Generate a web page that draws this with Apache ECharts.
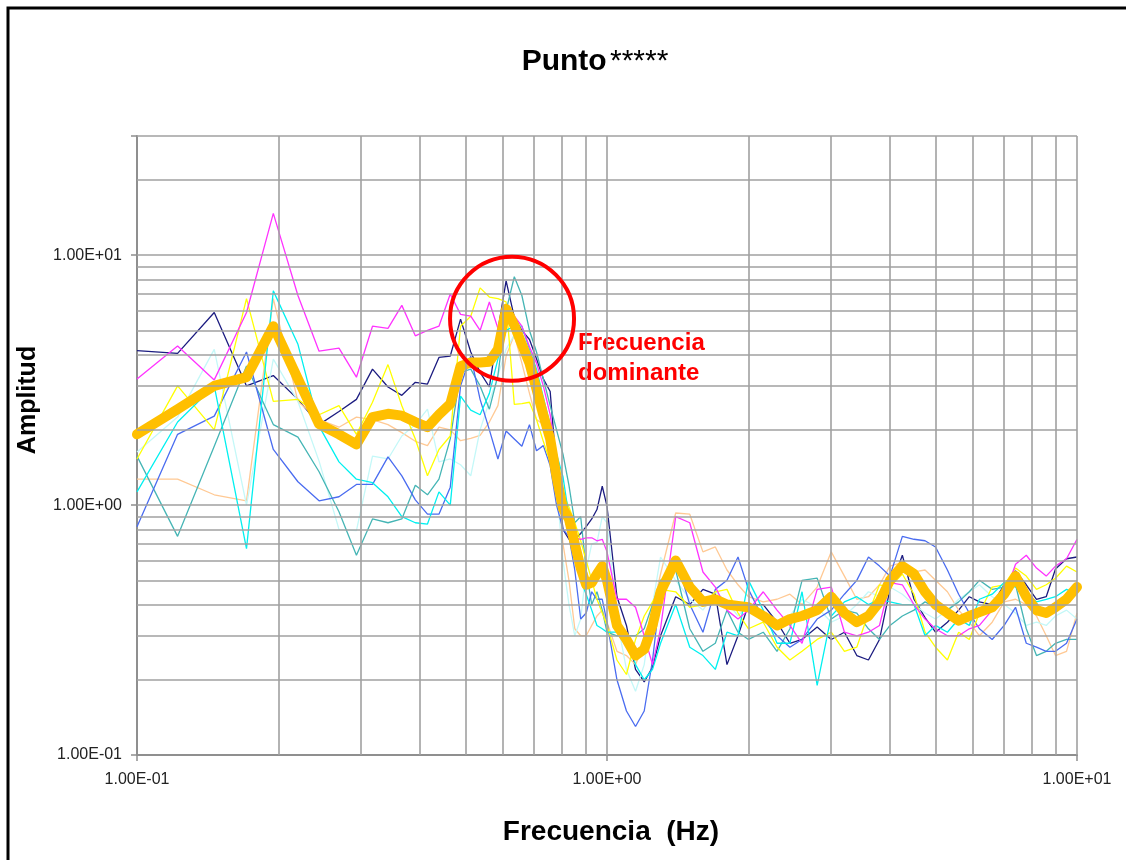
<!DOCTYPE html>
<html>
<head>
<meta charset="utf-8">
<title>Punto</title>
<script src="https://cdn.jsdelivr.net/npm/echarts@6/dist/echarts.min.js"></script>
<style>
  html, body { margin: 0; padding: 0; background: #fff; }
  #chart { width: 1126px; height: 860px; }
</style>
</head>
<body>
<div id="chart"></div>
<script>
// frequencies (Hz) shared by all the curves
var freq = [0.1, 0.122, 0.146, 0.171, 0.195, 0.22, 0.244, 0.269, 0.293, 0.317,
  0.342, 0.366, 0.391, 0.415, 0.439, 0.464, 0.488, 0.513, 0.537, 0.562,
  0.586, 0.61, 0.635, 0.659, 0.684, 0.708, 0.732, 0.757, 0.781, 0.806,
  0.83, 0.854, 0.879, 0.903, 0.928, 0.952, 0.977, 1.0,
  1.05, 1.1, 1.15, 1.2, 1.25, 1.3, 1.4, 1.5, 1.6, 1.7,
  1.8, 1.9, 2.0, 2.15, 2.3, 2.45, 2.6, 2.8, 3.0, 3.2,
  3.4, 3.6, 3.8, 4.0, 4.25, 4.5, 4.75, 5.0, 5.3, 5.6,
  5.9, 6.2, 6.6, 7.0, 7.4, 7.8, 8.2, 8.6, 9.0, 9.5, 10];

// amplitude of each record
var navy = [4.15, 4.05, 5.9, 3.0, 3.3, 2.65, 2.1, 2.37, 2.65, 3.5,
  2.97, 2.75, 3.1, 3.05, 3.9, 3.95, 5.55, 4.1, 3.4, 2.97,
  5.0, 7.9, 5.65, 5.0, 4.6, 3.85, 3.2, 2.85, 1.39, 0.8,
  0.73, 0.73, 0.77, 0.82, 0.88, 0.96, 1.19, 0.99,
  0.43, 0.33, 0.22, 0.196, 0.225, 0.30, 0.43, 0.40, 0.46, 0.44,
  0.23, 0.30, 0.40, 0.40, 0.34, 0.28, 0.29, 0.325, 0.29, 0.31,
  0.25, 0.24, 0.29, 0.46, 0.63, 0.42, 0.355, 0.31, 0.34, 0.38,
  0.43, 0.41, 0.40, 0.48, 0.545, 0.48, 0.42, 0.43, 0.555, 0.61, 0.62];
var magenta = [3.2, 4.33, 3.17, 5.9, 14.7, 6.9, 4.13, 4.25, 3.25, 5.2,
  5.1, 6.3, 4.76, 5.0, 5.2, 7.0, 5.8, 5.7, 5.0, 6.5,
  5.1, 6.3, 5.7, 5.2, 4.3, 3.7, 3.0, 2.3, 1.5, 0.95,
  0.76, 0.74, 0.73, 0.74, 0.74, 0.72, 0.73, 0.65,
  0.42, 0.42, 0.39, 0.30, 0.23, 0.32, 0.90, 0.85, 0.54, 0.47,
  0.38, 0.35, 0.38, 0.45, 0.38, 0.33, 0.28, 0.46, 0.47, 0.31,
  0.30, 0.31, 0.33, 0.49, 0.48, 0.40, 0.35, 0.32, 0.30, 0.30,
  0.32, 0.33, 0.38, 0.43, 0.58, 0.63, 0.56, 0.52, 0.57, 0.61, 0.73];
var yellow = [1.53, 3.0, 2.0, 6.7, 2.6, 2.65, 2.3, 2.5, 1.92, 2.58,
  3.65, 2.5, 1.84, 1.31, 1.67, 1.89, 5.2, 5.7, 7.4, 6.8,
  6.7, 6.5, 2.53, 2.55, 2.58, 2.2, 1.8, 1.49, 1.3, 1.12,
  0.98, 0.85, 0.72, 0.6, 0.5, 0.42, 0.37, 0.33,
  0.24, 0.21, 0.29, 0.36, 0.41, 0.46, 0.45, 0.39, 0.40, 0.45,
  0.46, 0.37, 0.32, 0.34, 0.27, 0.24, 0.26, 0.29, 0.31, 0.26,
  0.27, 0.37, 0.48, 0.47, 0.53, 0.44, 0.31, 0.27, 0.24, 0.31,
  0.29, 0.37, 0.47, 0.48, 0.56, 0.52, 0.46, 0.48, 0.51, 0.57, 0.54];
var cyan = [1.13, 2.15, 3.0, 0.67, 7.2, 4.4, 2.07, 1.49, 1.27, 1.23,
  1.08, 0.9, 0.85, 0.84, 1.13, 1.0, 2.73, 2.4, 2.3, 2.8,
  3.84, 5.0, 5.2, 5.2, 4.2, 3.5, 2.7, 2.1, 1.6, 1.3,
  0.9, 0.65, 0.5, 0.44, 0.38, 0.33, 0.32, 0.31,
  0.31, 0.31, 0.23, 0.20, 0.22, 0.28, 0.40, 0.27, 0.25, 0.22,
  0.31, 0.30, 0.50, 0.38, 0.28, 0.28, 0.45, 0.19, 0.36, 0.41,
  0.43, 0.40, 0.42, 0.41, 0.40, 0.40, 0.30, 0.33, 0.31, 0.35,
  0.33, 0.42, 0.44, 0.49, 0.47, 0.44, 0.41, 0.42, 0.43, 0.46, 0.44];
var royal = [0.82, 1.92, 2.27, 4.1, 1.67, 1.24, 1.04, 1.08, 1.21, 1.21,
  1.56, 1.31, 1.05, 0.92, 0.92, 1.18, 3.0, 3.95, 2.65, 2.0,
  1.53, 1.98, 1.84, 1.72, 2.1, 1.65, 1.73, 1.44, 1.0, 0.8,
  0.75, 0.55, 0.35, 0.37, 0.45, 0.42, 0.42, 0.34,
  0.20, 0.15, 0.13, 0.15, 0.24, 0.45, 0.62, 0.40, 0.31, 0.46,
  0.50, 0.62, 0.46, 0.35, 0.30, 0.27, 0.29, 0.35, 0.38, 0.44,
  0.50, 0.62, 0.57, 0.52, 0.75, 0.73, 0.72, 0.68, 0.55, 0.44,
  0.37, 0.32, 0.29, 0.33, 0.39, 0.28, 0.27, 0.26, 0.26, 0.28, 0.35];
var teal = [1.57, 0.75, 1.72, 3.6, 2.1, 1.87, 1.36, 0.94, 0.63, 0.88,
  0.85, 0.88, 1.2, 1.1, 1.27, 1.84, 3.4, 3.5, 3.0, 2.42,
  3.3, 6.0, 8.2, 6.9, 5.0, 4.1, 3.2, 2.5, 2.0, 1.6,
  1.2, 0.85, 0.9, 0.55, 0.4, 0.45, 0.38, 0.31,
  0.30, 0.30, 0.30, 0.32, 0.40, 0.50, 0.55, 0.32, 0.26, 0.28,
  0.38, 0.31, 0.29, 0.31, 0.26, 0.32, 0.50, 0.51, 0.35, 0.38,
  0.37, 0.32, 0.29, 0.33, 0.36, 0.38, 0.41, 0.39, 0.38, 0.41,
  0.45, 0.50, 0.46, 0.47, 0.48, 0.32, 0.25, 0.26, 0.28, 0.29, 0.29];
var peach = [1.27, 1.27, 1.1, 1.04, 6.7, 2.6, 2.2, 2.05, 2.25, 2.2,
  2.1, 1.95, 1.8, 1.73, 2.05, 2.0, 1.81, 1.85, 1.9, 2.15,
  2.5, 3.95, 4.8, 3.7, 2.8, 2.2, 2.1, 2.0, 1.3, 0.7,
  0.5, 0.32, 0.3, 0.3, 0.33, 0.36, 0.38, 0.34,
  0.26, 0.25, 0.23, 0.28, 0.38, 0.53, 0.93, 0.92, 0.65, 0.68,
  0.55, 0.48, 0.43, 0.41, 0.42, 0.44, 0.40, 0.47, 0.65, 0.52,
  0.42, 0.43, 0.48, 0.57, 0.59, 0.54, 0.55, 0.50, 0.45, 0.38,
  0.34, 0.30, 0.34, 0.41, 0.42, 0.40, 0.36, 0.30, 0.25, 0.26, 0.37];
var paleCyan = [1.63, 2.25, 4.2, 1.0, 3.84, 2.6, 1.5, 0.8, 0.79, 1.57,
  1.53, 1.89, 2.1, 2.42, 1.49, 1.53, 1.45, 1.31, 2.0, 2.6,
  3.3, 4.2, 4.8, 4.5, 3.9, 3.2, 2.5, 1.9, 1.2, 0.6,
  0.4, 0.3, 0.35, 0.55, 0.7, 0.71, 0.9, 0.85,
  0.35, 0.22, 0.18, 0.23, 0.4, 0.62, 0.5, 0.42, 0.38, 0.45,
  0.41, 0.36, 0.40, 0.37, 0.33, 0.36, 0.42, 0.39, 0.34, 0.36,
  0.40, 0.45, 0.43, 0.47, 0.44, 0.40, 0.37, 0.35, 0.38, 0.42,
  0.45, 0.48, 0.43, 0.40, 0.37, 0.33, 0.34, 0.33, 0.36, 0.38, 0.35];
// average curve (thick orange)
var average = [1.92, 2.42, 3.0, 3.25, 5.2, 3.2, 2.11, 1.92, 1.75, 2.25,
  2.32, 2.28, 2.15, 2.05, 2.3, 2.54, 3.6, 3.72, 3.72, 3.75,
  4.2, 6.1, 5.25, 4.4, 3.7, 2.91, 2.29, 1.84, 1.3, 0.97,
  0.88, 0.7, 0.56, 0.48, 0.49, 0.53, 0.57, 0.5,
  0.33, 0.29, 0.25, 0.265, 0.33, 0.45, 0.6, 0.47, 0.41, 0.42,
  0.40, 0.395, 0.39, 0.36, 0.33, 0.35, 0.36, 0.38, 0.43, 0.37,
  0.34, 0.36, 0.41, 0.5, 0.57, 0.53, 0.45, 0.40, 0.37, 0.345,
  0.36, 0.373, 0.39, 0.44, 0.52, 0.43, 0.38, 0.37, 0.39, 0.42, 0.47];

// grid lines of the log-log plot
var gridX = [0.2, 0.3, 0.4, 0.5, 0.6, 0.7, 0.8, 0.9, 1, 2, 3, 4, 5, 6, 7, 8, 9, 10];
var gridY = [0.2, 0.3, 0.4, 0.5, 0.6, 0.7, 0.8, 0.9, 1, 2, 3, 4, 5, 6, 7, 8, 9, 10, 20, 30];

// dominant frequency marker
var peakPoint = [0.628, 5.57];

var FONT = '"Liberation Sans", Arial, sans-serif';

function expLabel(v) {
  var lg = Math.log10(v);
  var e = Math.round(lg);
  if (Math.abs(lg - e) > 1e-6) return '';
  var s = String(Math.abs(e));
  if (s.length < 2) s = '0' + s;
  return '1.00E' + (e < 0 ? '-' : '+') + s;
}

function pairs(vals) {
  return freq.map(function (f, i) { return [f, vals[i]]; });
}

var thinLines = [
  { name: 'navy', vals: navy, color: '#1c1c80' },
  { name: 'peach', vals: peach, color: '#ffc994' },
  { name: 'paleCyan', vals: paleCyan, color: '#c4f8f8' },
  { name: 'teal', vals: teal, color: '#45b5b5' },
  { name: 'royal', vals: royal, color: '#4a6cf0' },
  { name: 'yellow', vals: yellow, color: '#ffff00' },
  { name: 'cyan', vals: cyan, color: '#00f0f0' },
  { name: 'magenta', vals: magenta, color: '#ff33ff' }
];

var series = [{
  type: 'line',
  name: 'grid',
  data: [],
  z: 1,
  silent: true,
  markLine: {
    silent: true,
    symbol: ['none', 'none'],
    label: { show: false },
    lineStyle: { color: '#a0a0a0', width: 1.6, type: 'solid' },
    data: gridX.map(function (x) { return { xAxis: x }; })
      .concat(gridY.map(function (y) { return { yAxis: y }; }))
  }
}];

thinLines.forEach(function (s) {
  series.push({
    type: 'line',
    name: s.name,
    data: pairs(s.vals),
    showSymbol: false,
    z: 2,
    silent: true,
    lineStyle: { color: s.color, width: 1.3 },
    itemStyle: { color: s.color }
  });
});

series.push({
  type: 'line',
  name: 'average',
  data: pairs(average),
  showSymbol: false,
  z: 3,
  silent: true,
  lineStyle: { color: '#ffbf00', width: 10, join: 'round', cap: 'round' },
  itemStyle: { color: '#ffbf00' }
});

series.push({
  type: 'scatter',
  name: 'peak',
  data: [peakPoint],
  symbol: 'circle',
  symbolSize: 124,
  z: 5,
  silent: true,
  itemStyle: { color: 'rgba(0,0,0,0)', borderColor: '#ff0000', borderWidth: 4, opacity: 1 }
});

var chart = echarts.init(document.getElementById('chart'));
chart.setOption({
  animation: false,
  backgroundColor: '#ffffff',
  grid: { left: 137, right: 49, top: 136, bottom: 105 },
  xAxis: {
    type: 'log',
    logBase: 10,
    min: 0.1,
    max: 10,
    axisLine: { show: true, onZero: false, lineStyle: { color: '#8f8f8f', width: 2 } },
    axisTick: { show: true, length: 6, lineStyle: { color: '#8f8f8f', width: 1.5 } },
    axisLabel: { formatter: expLabel, fontFamily: FONT, fontSize: 16, color: '#222', margin: 17 },
    splitLine: { show: false }
  },
  yAxis: {
    type: 'log',
    logBase: 10,
    min: 0.1,
    max: 30,
    axisLine: { show: true, onZero: false, lineStyle: { color: '#8f8f8f', width: 2 } },
    axisTick: { show: true, length: 6, lineStyle: { color: '#8f8f8f', width: 1.5 } },
    axisLabel: { formatter: expLabel, fontFamily: FONT, fontSize: 16, color: '#222', margin: 15 },
    splitLine: { show: false }
  },
  graphic: [
    {
      type: 'rect',
      shape: { x: 8, y: 8, width: 1300, height: 1000 },
      style: { fill: 'none', stroke: '#000', lineWidth: 3 },
      silent: true
    },
    {
      type: 'text',
      x: 595, y: 62,
      style: {
        text: '{b|Punto} {n|*****}',
        align: 'center', verticalAlign: 'middle',
        rich: {
          b: { font: 'bold 30px ' + FONT, fill: '#000' },
          n: { font: '30px ' + FONT, fill: '#000' }
        }
      }
    },
    {
      type: 'text',
      x: 611, y: 832,
      style: {
        text: 'Frecuencia  (Hz)',
        align: 'center', verticalAlign: 'middle',
        font: 'bold 28px ' + FONT, fill: '#000'
      }
    },
    {
      type: 'text',
      x: 28, y: 400,
      rotation: Math.PI / 2,
      style: {
        text: 'Amplitud',
        align: 'center', verticalAlign: 'middle',
        font: 'bold 25px ' + FONT, fill: '#000'
      }
    },
    {
      type: 'text',
      x: 578, y: 328,
      style: {
        text: 'Frecuencia\ndominante',
        align: 'left', verticalAlign: 'top',
        font: 'bold 24px ' + FONT, fill: '#ff0000', lineHeight: 30
      }
    }
  ],
  series: series
});
</script>
</body>
</html>
